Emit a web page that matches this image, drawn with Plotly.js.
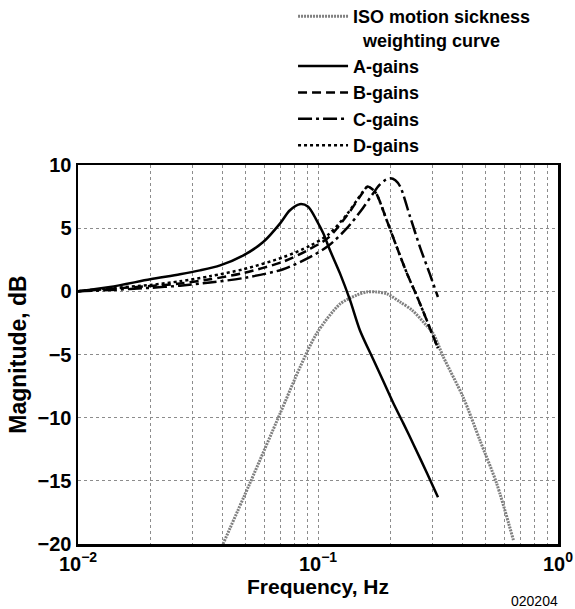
<!DOCTYPE html>
<html>
<head>
<meta charset="utf-8">
<script src="https://cdn.plot.ly/plotly-3.0.1.min.js"></script>
<style>html,body{margin:0;padding:0;background:#fff;}#chart{width:575px;height:609px;}</style>
</head>
<body>
<div id="chart"></div>
<script>
// ---- data ----
const isoFreq = [0.0402, 0.052, 0.0694, 0.0842, 0.099, 0.1236, 0.145, 0.16, 0.175, 0.194, 0.22, 0.247, 0.28, 0.302, 0.333, 0.403, 0.473, 0.555, 0.652];
const isoDb   = [-20, -15.2, -9.7, -6.0, -3.3, -1.0, -0.3, -0.05, -0.05, -0.2, -0.85, -1.5, -2.6, -3.35, -5.2, -8.4, -11.8, -15.2, -19.7];

const aFreq = [0.01, 0.0136, 0.02, 0.0266, 0.0322, 0.0391, 0.0489, 0.0591, 0.0694, 0.0762, 0.0839, 0.091, 0.0988, 0.1053, 0.1122, 0.1236, 0.136, 0.1496, 0.170, 0.188, 0.2054, 0.2268, 0.2497, 0.2847, 0.3162];
const aDb   = [0, 0.35, 0.95, 1.35, 1.66, 2.06, 2.85, 3.9, 5.36, 6.4, 6.9, 6.7, 5.6, 4.57, 3.25, 1.4, -0.7, -3.1, -5.4, -7.2, -8.8, -10.45, -12.1, -14.4, -16.3];

const bdFreq = [0.01, 0.0136, 0.02, 0.0266, 0.0355, 0.0489, 0.0716, 0.0925, 0.1105, 0.132, 0.154, 0.161, 0.168, 0.1754, 0.1936, 0.213, 0.235, 0.2585, 0.284, 0.316];
const bDb    = [0, 0.2, 0.42, 0.62, 0.95, 1.45, 2.35, 3.35, 4.25, 6.0, 7.85, 8.3, 8.1, 7.7, 5.6, 3.5, 1.4, -0.4, -2.3, -4.5];
const dDb    = [0, 0.25, 0.5, 0.8, 1.2, 1.75, 2.7, 3.6, 4.5, 6.1, 7.9, 8.3, 8.1, 7.7, 5.6, 3.5, 1.4, -0.4, -2.3, -4.5];

const cFreq = [0.01, 0.0136, 0.02, 0.0266, 0.0355, 0.0489, 0.0716, 0.0925, 0.1105, 0.132, 0.154, 0.169, 0.18, 0.192, 0.2, 0.21, 0.22, 0.242, 0.266, 0.292, 0.316];
const cDb   = [0, 0.1, 0.28, 0.45, 0.7, 1.05, 1.75, 2.7, 3.6, 5.0, 6.6, 7.7, 8.4, 8.85, 8.95, 8.8, 8.3, 5.9, 3.5, 1.4, -0.45];

const seriesNames = ['ISO motion sickness<br>\u00a0\u00a0weighting curve', 'A-gains', 'B-gains', 'C-gains', 'D-gains'];

const xTickVals = [0.01, 0.1, 1];
const xTickText = ['10<sup>\u22122</sup>', '10<sup>\u22121</sup>', '10<sup>0</sup>'];
const xMinorVals = [0.02,0.03,0.04,0.05,0.06,0.07,0.08,0.09,0.2,0.3,0.4,0.5,0.6,0.7,0.8,0.9];
const yTickVals = [-20, -15, -10, -5, 0, 5, 10];
const yTickText = ['\u221220', '\u221215', '\u221210', '\u22125', '0', '5', '10'];

const FONT = 'Liberation Sans, Arial, Helvetica, sans-serif';
const GRID = '#8c8c8c';

const traces = [
  {x: isoFreq, y: isoDb, name: seriesNames[0], mode: 'lines', line: {color: '#808080', width: 3, dash: '2px,1px', shape: 'spline', smoothing: 0.8}},
  {x: aFreq, y: aDb, name: seriesNames[1], mode: 'lines', line: {color: '#000', width: 2.5, shape: 'spline', smoothing: 0.8}},
  {x: bdFreq, y: bDb, name: seriesNames[2], mode: 'lines', line: {color: '#000', width: 2.5, dash: '9px,5px', shape: 'spline', smoothing: 0.8}},
  {x: cFreq, y: cDb, name: seriesNames[3], mode: 'lines', line: {color: '#000', width: 2.5, dash: '14px,4px,3px,4px', shape: 'spline', smoothing: 0.8}},
  {x: bdFreq, y: dDb, name: seriesNames[4], mode: 'lines', line: {color: '#000', width: 2.5, dash: 'dot', shape: 'spline', smoothing: 0.8}}
];

const layout = {
  width: 575, height: 609,
  margin: {l: 78, r: 17, t: 165, b: 65, pad: 0, autoexpand: false},
  paper_bgcolor: '#fff', plot_bgcolor: '#fff',
  font: {family: FONT, size: 18, color: '#000', weight: 'bold'},
  showlegend: true,
  legend: {
    x: 0.448, y: 1.4406, xanchor: 'left', yanchor: 'top',
    font: {family: FONT, size: 18, color: '#000', weight: 'bold'},
    bgcolor: 'rgba(0,0,0,0)', valign: 'top', itemwidth: 50, tracegroupgap: 0
  },
  xaxis: {
    type: 'log', range: [-2, 0],
    tickmode: 'array', tickvals: xTickVals, ticktext: xTickText,
    ticks: '', showgrid: true, gridcolor: GRID, gridwidth: 1, griddash: 'dot',
    minor: {tickmode: 'array', tickvals: xMinorVals, ticks: '', showgrid: true, gridcolor: GRID, gridwidth: 1, griddash: 'dot'},
    showline: true, mirror: true, linecolor: '#000', linewidth: 2.5,
    zeroline: false,
    tickfont: {family: FONT, size: 20, color: '#000', weight: 'bold'},
    title: {text: 'Frequency, Hz', font: {family: FONT, size: 21, color: '#000', weight: 'bold'}, standoff: 6}
  },
  yaxis: {
    range: [-20, 10],
    tickmode: 'array', tickvals: yTickVals, ticktext: yTickText,
    ticks: '', showgrid: true, gridcolor: GRID, gridwidth: 1, griddash: 'dot',
    showline: true, mirror: true, linecolor: '#000', linewidth: 2.5,
    zeroline: false,
    tickfont: {family: FONT, size: 20, color: '#000', weight: 'bold'},
    title: {text: 'Magnitude, dB\u00a0\u00a0\u00a0\u00a0', font: {family: FONT, size: 23, color: '#000', weight: 'bold'}, standoff: 5}
  },
  annotations: [
    {text: '020204', xref: 'paper', yref: 'paper', x: 1.004, y: -0.150, xanchor: 'right', yanchor: 'middle', showarrow: false,
     font: {family: FONT, size: 14, color: '#000', weight: 'normal'}}
  ]
};

Plotly.newPlot('chart', traces, layout, {displayModeBar: false, staticPlot: true});
</script>
</body>
</html>
